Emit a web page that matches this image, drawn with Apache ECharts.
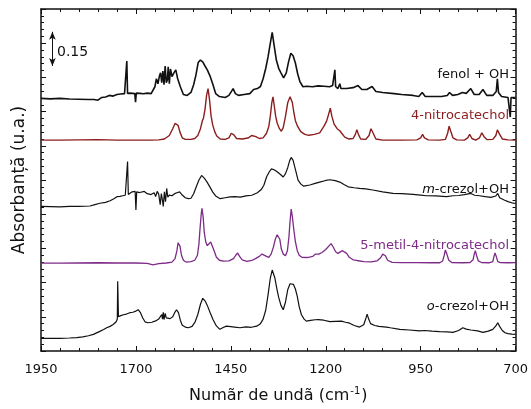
<!DOCTYPE html>
<html>
<head>
<meta charset="utf-8">
<script src="https://cdn.jsdelivr.net/npm/echarts@6/dist/echarts.min.js"></script>
<style>
  html, body { margin: 0; padding: 0; background: #fff; }
  #chart { width: 531px; height: 409px; }
</style>
</head>
<body>
<div id="chart"></div>
<script>
// Wavenumber axis runs from 1950 down to 700 cm-1; positions are measured from 1950.
const WN_START = 1950;
const WN_END = 700;
const xTickStep = 250;

// Spectra as [wavenumber (cm-1), absorbance incl. stacking offset]
const fenolOH = [
  [1950,1.108],[1925,1.106],[1900,1.108],[1875,1.105],[1850,1.104],[1825,1.103],[1810,1.103],[1800,1.100],
  [1790,1.112],[1780,1.114],[1770,1.121],[1760,1.118],[1750,1.125],[1740,1.127],[1730,1.129],[1726,1.128],
  [1724,1.272],[1722,1.130],[1715,1.131],[1710,1.134],[1703,1.129],[1701,1.091],[1699,1.131],[1690,1.130],
  [1680,1.128],[1670,1.131],[1660,1.129],[1655,1.130],[1650,1.159],[1646,1.194],[1642,1.172],[1638,1.207],
  [1635,1.220],[1632,1.177],[1629,1.228],[1626,1.168],[1623,1.250],[1620,1.177],[1617,1.190],[1615,1.246],
  [1612,1.172],[1609,1.237],[1605,1.203],[1600,1.220],[1595,1.233],[1590,1.194],[1583,1.159],[1575,1.125],
  [1565,1.121],[1555,1.134],[1548,1.168],[1542,1.210],[1536,1.265],[1530,1.276],[1524,1.268],[1518,1.250],
  [1512,1.233],[1505,1.207],[1497,1.168],[1490,1.129],[1480,1.116],[1465,1.112],[1455,1.121],[1448,1.140],
  [1444,1.151],[1438,1.129],[1430,1.121],[1415,1.125],[1400,1.129],[1390,1.147],[1380,1.151],[1372,1.160],
  [1365,1.194],[1358,1.240],[1352,1.290],[1346,1.350],[1341,1.397],[1336,1.340],[1330,1.275],[1324,1.240],
  [1318,1.220],[1311,1.198],[1304,1.220],[1298,1.268],[1292,1.306],[1286,1.295],[1280,1.263],[1274,1.216],
  [1268,1.181],[1260,1.159],[1250,1.161],[1235,1.159],[1220,1.163],[1205,1.161],[1190,1.159],[1182,1.164],
  [1178,1.160],[1176,1.233],[1174,1.160],[1168,1.151],[1163,1.172],[1160,1.151],[1145,1.151],[1128,1.155],
  [1115,1.164],[1105,1.147],[1092,1.147],[1078,1.160],[1068,1.138],[1050,1.134],[1020,1.129],[1000,1.125],
  [970,1.121],[955,1.116],[946,1.134],[938,1.116],[915,1.116],[895,1.116],[880,1.121],[874,1.134],
  [866,1.121],[852,1.125],[840,1.134],[830,1.130],[818,1.151],[809,1.125],[796,1.125],[786,1.147],
  [776,1.121],[760,1.121],[751,1.138],[748,1.194],[745,1.134],[737,1.116],[720,1.112],[716,1.112],
  [714,1.026],[712,1.112],[700,1.112]
];

const nitrocatechol = [
  [1950,0.925],[1900,0.925],[1850,0.926],[1800,0.927],[1750,0.925],[1700,0.925],[1660,0.925],[1640,0.926],
  [1625,0.930],[1612,0.945],[1603,0.975],[1597,0.998],[1593,1.004],[1589,0.990],[1584,0.960],[1578,0.935],
  [1570,0.928],[1555,0.928],[1545,0.932],[1537,0.945],[1530,0.975],[1525,1.010],[1522,1.022],[1518,1.060],
  [1514,1.120],[1510,1.151],[1506,1.100],[1502,1.030],[1498,0.993],[1492,0.960],[1487,0.943],[1478,0.930],
  [1465,0.928],[1455,0.935],[1449,0.955],[1446,0.960],[1442,0.948],[1435,0.932],[1420,0.930],[1405,0.934],
  [1395,0.945],[1390,0.950],[1384,0.940],[1375,0.932],[1365,0.935],[1356,0.955],[1350,0.985],[1346,1.030],
  [1342,1.090],[1339,1.115],[1336,1.080],[1332,1.030],[1328,1.000],[1322,0.975],[1317,0.964],[1312,0.980],
  [1306,1.030],[1300,1.090],[1294,1.115],[1291,1.119],[1288,1.090],[1284,1.045],[1280,1.010],[1274,0.985],
  [1266,0.962],[1255,0.950],[1245,0.946],[1230,0.950],[1216,0.957],[1205,0.985],[1198,1.007],[1193,1.035],
  [1188,1.065],[1184,1.030],[1178,0.995],[1170,0.975],[1163,0.966],[1158,0.955],[1150,0.938],[1140,0.930],
  [1128,0.932],[1122,0.950],[1118,0.971],[1114,0.950],[1108,0.930],[1095,0.928],[1086,0.945],[1081,0.975],
  [1079,0.981],[1075,0.955],[1068,0.930],[1050,0.925],[1000,0.925],[960,0.926],[950,0.935],[945,0.950],
  [940,0.935],[930,0.926],[900,0.925],[885,0.928],[879,0.955],[875,0.986],[871,0.965],[865,0.935],
  [855,0.926],[835,0.925],[826,0.935],[821,0.950],[815,0.932],[805,0.925],[795,0.935],[789,0.957],
  [783,0.940],[775,0.927],[760,0.928],[752,0.945],[748,0.970],[746,0.978],[742,0.950],[735,0.930],
  [720,0.926],[700,0.925]
];

const mCrezolOH = [
  [1950,0.634],[1925,0.633],[1900,0.632],[1875,0.634],[1850,0.634],[1821,0.636],[1808,0.642],[1795,0.648],
  [1780,0.652],[1768,0.659],[1758,0.668],[1750,0.677],[1742,0.678],[1735,0.681],[1728,0.683],[1724,0.684],
  [1722,0.831],[1720,0.686],[1715,0.692],[1710,0.698],[1705,0.694],[1702,0.700],[1700,0.619],[1698,0.698],
  [1690,0.695],[1685,0.694],[1678,0.700],[1670,0.690],[1660,0.686],[1652,0.694],[1648,0.677],[1644,0.700],
  [1640,0.688],[1636,0.642],[1633,0.690],[1630,0.660],[1628,0.634],[1625,0.698],[1622,0.655],[1619,0.713],
  [1616,0.675],[1612,0.684],[1605,0.681],[1598,0.690],[1592,0.694],[1585,0.698],[1578,0.684],[1570,0.672],
  [1562,0.668],[1555,0.670],[1548,0.690],[1541,0.720],[1534,0.750],[1527,0.770],[1520,0.758],[1513,0.742],
  [1506,0.722],[1498,0.698],[1490,0.680],[1478,0.668],[1465,0.672],[1452,0.676],[1440,0.677],[1425,0.675],
  [1410,0.680],[1395,0.683],[1380,0.694],[1370,0.708],[1363,0.727],[1356,0.763],[1349,0.785],[1343,0.799],
  [1336,0.795],[1328,0.786],[1320,0.775],[1312,0.763],[1306,0.778],[1300,0.805],[1295,0.835],[1291,0.849],
  [1286,0.836],[1280,0.797],[1273,0.749],[1266,0.733],[1258,0.723],[1242,0.728],[1228,0.735],[1216,0.741],
  [1200,0.748],[1189,0.751],[1175,0.747],[1163,0.741],[1152,0.730],[1141,0.720],[1125,0.716],[1111,0.713],
  [1095,0.711],[1076,0.706],[1050,0.698],[1023,0.691],[1000,0.690],[970,0.687],[950,0.684],[935,0.681],
  [910,0.680],[882,0.677],[865,0.681],[850,0.682],[835,0.686],[818,0.691],[808,0.683],[795,0.681],
  [780,0.677],[765,0.674],[752,0.680],[747,0.691],[742,0.672],[730,0.662],[720,0.655],[710,0.650],
  [700,0.647]
];

const metilNitrocatechol = [
  [1950,0.385],[1900,0.385],[1850,0.386],[1800,0.387],[1750,0.386],[1700,0.386],[1670,0.384],[1655,0.378],
  [1640,0.383],[1620,0.386],[1605,0.390],[1597,0.405],[1592,0.440],[1589,0.475],[1587,0.483],[1584,0.460],
  [1580,0.420],[1575,0.398],[1568,0.390],[1555,0.392],[1545,0.398],[1538,0.420],[1534,0.470],[1531,0.540],
  [1528,0.600],[1526,0.626],[1523,0.590],[1520,0.520],[1516,0.478],[1512,0.462],[1507,0.470],[1503,0.478],
  [1499,0.470],[1494,0.440],[1488,0.411],[1480,0.398],[1470,0.394],[1455,0.395],[1443,0.405],[1437,0.420],
  [1432,0.430],[1427,0.415],[1420,0.400],[1408,0.393],[1395,0.397],[1385,0.405],[1375,0.415],[1368,0.425],
  [1363,0.424],[1356,0.415],[1350,0.411],[1344,0.425],[1338,0.455],[1333,0.490],[1328,0.510],[1325,0.514],
  [1321,0.490],[1317,0.447],[1312,0.425],[1306,0.418],[1301,0.440],[1297,0.500],[1294,0.570],[1291,0.622],
  [1288,0.590],[1284,0.530],[1280,0.480],[1275,0.440],[1270,0.420],[1263,0.411],[1250,0.410],[1240,0.413],
  [1233,0.416],[1228,0.425],[1224,0.422],[1218,0.425],[1210,0.432],[1200,0.445],[1192,0.460],[1186,0.471],
  [1180,0.455],[1174,0.435],[1168,0.428],[1163,0.432],[1156,0.440],[1151,0.444],[1145,0.428],[1138,0.411],
  [1128,0.400],[1118,0.397],[1100,0.392],[1080,0.391],[1065,0.395],[1055,0.410],[1050,0.425],[1047,0.430],
  [1043,0.418],[1037,0.398],[1025,0.389],[1000,0.388],[960,0.388],[920,0.387],[900,0.387],[892,0.395],
  [888,0.420],[885,0.443],[881,0.425],[876,0.398],[868,0.388],[840,0.387],[820,0.388],[812,0.400],
  [809,0.425],[806,0.440],[803,0.420],[798,0.395],[790,0.388],[770,0.387],[760,0.392],[757,0.415],
  [754,0.430],[751,0.415],[747,0.392],[740,0.388],[720,0.387],[700,0.388]
];

const oCrezolOH = [
  [1950,0.055],[1925,0.056],[1900,0.055],[1875,0.057],[1856,0.059],[1840,0.062],[1825,0.067],[1812,0.073],
  [1795,0.086],[1785,0.094],[1777,0.102],[1768,0.108],[1760,0.116],[1752,0.128],[1749,0.140],[1748,0.306],
  [1746,0.150],[1740,0.155],[1733,0.159],[1725,0.162],[1716,0.168],[1708,0.170],[1700,0.175],[1694,0.181],
  [1688,0.168],[1682,0.145],[1676,0.128],[1668,0.124],[1658,0.126],[1648,0.132],[1640,0.140],[1635,0.147],
  [1632,0.160],[1630,0.140],[1628,0.170],[1626,0.138],[1623,0.165],[1620,0.145],[1616,0.152],[1610,0.142],
  [1603,0.150],[1598,0.168],[1593,0.181],[1588,0.168],[1583,0.135],[1578,0.113],[1570,0.105],[1562,0.102],
  [1552,0.108],[1544,0.128],[1537,0.160],[1530,0.205],[1524,0.231],[1518,0.220],[1512,0.200],[1505,0.170],
  [1497,0.138],[1488,0.110],[1479,0.095],[1470,0.103],[1462,0.109],[1450,0.107],[1440,0.105],[1426,0.102],
  [1410,0.106],[1396,0.104],[1382,0.109],[1372,0.120],[1365,0.140],[1358,0.180],[1352,0.246],[1346,0.320],
  [1341,0.355],[1338,0.358],[1334,0.320],[1329,0.275],[1324,0.235],[1318,0.200],[1312,0.181],[1306,0.215],
  [1300,0.270],[1294,0.295],[1290,0.300],[1285,0.292],[1280,0.272],[1275,0.240],[1270,0.195],[1264,0.159],
  [1257,0.140],[1251,0.131],[1240,0.134],[1228,0.137],[1220,0.138],[1205,0.135],[1189,0.129],[1175,0.130],
  [1159,0.131],[1148,0.126],[1137,0.122],[1125,0.112],[1111,0.105],[1100,0.115],[1094,0.145],[1091,0.162],
  [1087,0.140],[1082,0.120],[1071,0.112],[1060,0.108],[1040,0.105],[1036,0.113],[1030,0.102],[1005,0.095],
  [980,0.092],[953,0.088],[940,0.090],[920,0.087],[900,0.085],[880,0.084],[865,0.082],[850,0.090],
  [839,0.102],[830,0.096],[818,0.092],[800,0.088],[786,0.082],[772,0.087],[760,0.095],[752,0.110],
  [747,0.124],[742,0.108],[735,0.090],[728,0.080],[720,0.076],[710,0.074],[700,0.073]
];

// Absorbance scale bar: wavenumber, lower end, length
const scaleBarWn = 1920;
const scaleBarFrom = 1.25;
const scaleBarSize = 0.15;

const FONT = 'DejaVu Sans';
const BLACK = '#111111';
const RED = '#8b1e1e';
const PURPLE = '#7e2a88';

const toXY = spec => spec.map(([wn, a]) => [WN_START - wn, a]);

const chart = echarts.init(document.getElementById('chart'), null, { renderer: 'canvas' });

const frameAxisCommon = {
  axisLine: { show: true, onZero: false, lineStyle: { color: BLACK, width: 1.5 } },
  axisTick: { show: true, inside: true, length: 5, lineStyle: { color: BLACK, width: 1 } },
  minorTick: { show: true, splitNumber: 5, length: 3, lineStyle: { color: BLACK, width: 1 } },
  splitLine: { show: false },
  minorSplitLine: { show: false }
};

const xBase = {
  type: 'value', min: 0, max: WN_START - WN_END, interval: xTickStep
};
const yBase = {
  type: 'value', min: 0, max: 1.5, interval: 0.15
};

const line = (name, data, color, width) => ({
  name, type: 'line', data: toXY(data), showSymbol: false, symbol: 'none',
  lineStyle: { color, width }, itemStyle: { color }, silent: true, z: 3
});

const labelText = (text, y, color, rich) => ({
  type: 'text', x: 509, y,
  style: {
    text, fill: color, font: '13px "' + FONT + '"',
    textAlign: 'right', textVerticalAlign: 'middle',
    rich: rich || undefined
  },
  z: 10
});

const italicRich = { i: { fontStyle: 'italic', fontSize: 13, fontFamily: FONT, color: BLACK },
                     n: { fontSize: 13, fontFamily: FONT, color: BLACK } };

chart.setOption({
  animation: false,
  backgroundColor: '#ffffff',
  grid: { left: 41, right: 14, top: 9, bottom: 52, containLabel: false },
  xAxis: [
    Object.assign({}, xBase, frameAxisCommon, {
      position: 'bottom',
      axisLabel: {
        show: true, margin: 12, color: BLACK, fontFamily: FONT, fontSize: 13,
        showMinLabel: true, showMaxLabel: true,
        formatter: v => String(WN_START - v)
      },
      name: '{t|Numãr de undã (cm}{s|-1}{t|)}',
      nameLocation: 'middle', nameGap: 35,
      nameTextStyle: {
        rich: {
          t: { fontFamily: FONT, fontSize: 16, color: BLACK, lineHeight: 20 },
          s: { fontFamily: FONT, fontSize: 10, color: BLACK, verticalAlign: 'top', lineHeight: 20, padding: [0, 1, 8, 1] }
        }
      }
    }),
    Object.assign({}, xBase, frameAxisCommon, {
      position: 'top', axisLabel: { show: false }
    })
  ],
  yAxis: [
    Object.assign({}, yBase, frameAxisCommon, {
      position: 'left',
      axisLabel: { show: false },
      name: 'Absorbanță (u.a.)',
      nameLocation: 'middle', nameGap: 13,
      nameTextStyle: { fontFamily: FONT, fontSize: 17, color: BLACK }
    }),
    Object.assign({}, yBase, frameAxisCommon, {
      position: 'right', axisLabel: { show: false }
    })
  ],
  series: [
    Object.assign(line('fenol + OH', fenolOH, BLACK, 1.6), {
      markLine: {
        silent: true,
        symbol: ['arrow', 'arrow'],
        symbolSize: [5, 8],
        label: { show: false },
        lineStyle: { color: BLACK, width: 1, type: 'solid' },
        data: [[
          { coord: [WN_START - scaleBarWn, scaleBarFrom] },
          { coord: [WN_START - scaleBarWn, scaleBarFrom + scaleBarSize] }
        ]]
      }
    }),
    line('4-nitrocatechol', nitrocatechol, RED, 1.4),
    line('m-crezol+OH', mCrezolOH, BLACK, 1.2),
    line('5-metil-4-nitrocatechol', metilNitrocatechol, PURPLE, 1.3),
    line('o-crezol+OH', oCrezolOH, BLACK, 1.2)
  ],
  graphic: [
    {
      type: 'text', x: 57, y: 52,
      style: { text: String(scaleBarSize), fill: BLACK, font: '14px "' + FONT + '"', textAlign: 'left', textVerticalAlign: 'middle' },
      z: 10
    },
    labelText('fenol + OH', 74.5, BLACK),
    labelText('4-nitrocatechol', 116, RED),
    labelText('{i|m}{n|-crezol+OH}', 190, BLACK, italicRich),
    labelText('5-metil-4-nitrocatechol', 246, PURPLE),
    labelText('{i|o}{n|-crezol+OH}', 307, BLACK, italicRich)
  ]
});
</script>
</body>
</html>
